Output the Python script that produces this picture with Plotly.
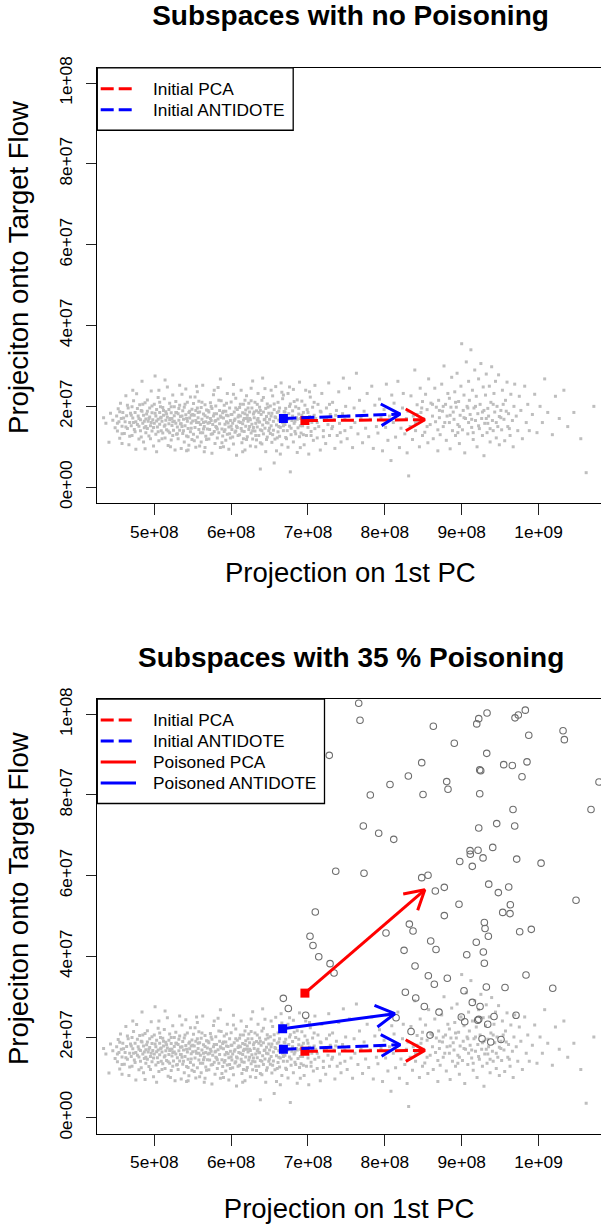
import math
import plotly.graph_objects as go

# ---------------- data ----------------
x_tick_vals = [5e8, 6e8, 7e8, 8e8, 9e8, 1e9]
x_tick_text = ["5e+08", "6e+08", "7e+08", "8e+08", "9e+08", "1e+09"]
y_tick_vals = [0, 2e7, 4e7, 6e7, 8e7, 1e8]
y_tick_text = ["0e+00", "2e+07", "4e+07", "6e+07", "8e+07", "1e+08"]

panel_titles = ["Subspaces with no Poisoning", "Subspaces with 35 % Poisoning"]
x_title = "Projection on 1st PC"
y_title = "Projeciton onto Target Flow"

legend_top = ["Initial PCA", "Initial ANTIDOTE"]
legend_bottom = ["Initial PCA", "Initial ANTIDOTE", "Poisoned PCA", "Poisoned ANTIDOTE"]

# normal traffic (x in 1e6, y in 1e5)
cloud_pts = [
    (434,172),(437,158),(441,111),(443,183),(446,166),(449,147),
    (451,176),(452,139),(453,194),(454,162),(455,121),(456,208),(457,170),(458,151),(459,185),
    (461,133),(462,162),(463,226),(464,177),(465,145),(466,196),(467,105),(468,160),(469,183),
    (470,152),(471,199),(471,128),(472,171),(473,214),(474,143),(475,185),(476,162),(476,94),
    (477,231),(478,155),(479,176),(480,119),(481,204),(482,167),(482,140),(483,190),(484,262),
    (485,158),(486,178),(486,112),(487,147),(488,209),(489,169),(489,135),(484,188),(480,151),
    (490,181),(491,145),(491,216),(492,163),(493,127),(494,196),(494,174),(495,152),(496,238),
    (497,184),(497,139),(498,167),(499,102),(500,205),(500,158),(501,275),(502,176),(502,131),
    (503,192),(504,149),(505,222),(505,168),(506,115),(507,185),(507,156),(508,199),(509,140),
    (509,173),(496,160),(503,88),
    (510,163),(511,197),(511,134),(512,178),(513,151),(513,219),(514,122),(515,187),(515,166),
    (516,142),(517,248),(517,173),(518,103),(519,192),(519,157),(520,208),(520,135),(521,170),
    (522,184),(522,117),(523,153),(524,228),(524,162),(525,141),(526,199),(526,177),(527,92),
    (528,158),(528,212),(529,131),(529,185),(514,265),(523,170),
    (530,149),(531,182),(531,120),(532,166),(533,203),(533,141),(534,175),(535,96),(535,157),
    (536,230),(537,189),(537,133),(538,168),(539,112),(539,198),(540,152),(541,179),(541,243),
    (542,127),(543,163),(543,210),(544,145),(545,185),(545,104),(546,171),(547,137),(547,223),
    (548,159),(549,193),(549,118),(536,150),(542,90),(548,178),
    (550,164),(551,131),(551,207),(552,178),(553,148),(554,99),(554,190),(555,160),(556,236),
    (556,124),(557,172),(558,143),(558,213),(559,186),(560,155),(561,112),(561,197),(562,168),
    (563,135),(563,252),(564,181),(565,150),(565,88),(566,204),(567,162),(567,126),(568,191),
    (569,144),(569,173),(553,223),(559,102),(564,160),(557,185),
    (570,158),(571,186),(571,119),(572,143),(573,209),(573,170),(574,131),(575,195),(575,84),
    (576,155),(577,229),(577,176),(578,138),(579,163),(579,108),(580,201),(581,148),(581,182),
    (582,122),(583,169),(583,247),(584,135),(585,190),(585,157),(586,98),(587,214),(587,173),
    (588,144),(589,184),(589,127),(574,165),(580,150),(586,268),
    (590,171),(591,138),(591,203),(592,156),(593,116),(593,188),(594,162),(595,232),(595,131),
    (596,177),(597,149),(597,94),(598,196),(599,165),(599,122),(600,211),(601,143),(601,180),
    (602,158),(603,254),(603,107),(604,186),(605,136),(605,169),(606,220),(607,151),(607,79),
    (608,192),(609,128),(609,174),(594,178),(600,151),(606,139),
    (610,162),(611,197),(611,130),(612,176),(613,145),(613,240),(614,110),(615,184),(615,157),
    (616,205),(617,138),(617,170),(618,92),(619,191),(619,151),(620,226),(621,125),(621,178),
    (622,163),(623,143),(623,208),(624,186),(625,102),(625,167),(626,134),(627,196),(627,156),
    (628,263),(629,148),(629,181),(612,160),(616,120),(620,170),(624,150),(628,119),(618,215),
    (630,172),(631,139),(631,210),(632,158),(633,189),(633,117),(634,149),(635,232),(635,170),
    (636,128),(637,198),(637,161),(638,45),(638,142),(639,180),(640,107),(640,215),(641,154),
    (642,186),(642,132),(643,167),(644,244),(644,146),(645,195),(645,88),(646,175),(647,124),
    (647,206),(648,159),(649,183),(649,140),(632,100),(636,185),(641,270),(646,160),(634,166),
    (650,168),(651,201),(651,133),(652,152),(653,183),(653,111),(654,226),(655,163),(655,141),
    (656,192),(657,119),(657,174),(658,249),(659,154),(659,90),(660,185),(661,137),(661,210),
    (662,166),(663,126),(663,196),(664,148),(665,178),(665,258),(666,105),(667,160),(667,219),
    (668,140),(669,187),(669,171),(656,60),(662,150),(668,228),
    (670,155),(671,195),(671,123),(672,172),(673,140),(674,232),(674,99),(675,182),(676,151),
    (677,206),(677,38),(678,130),(679,165),(680,189),(681,112),(681,242),(682,158),(683,138),
    (684,199),(685,172),(686,86),(686,216),(687,147),(688,181),(689,125),(689,260),(683,163),
    (690,170),(691,134),(692,213),(693,152),(694,185),(695,105),(696,165),(697,240),(698,128),
    (699,192),(700,148),(701,82),(702,175),(703,223),(704,138),(705,160),(706,198),(707,116),
    (708,178),(709,252),(709,145),
    (710,170),(712,122),(713,205),(714,150),(716,92),(717,186),(718,232),(720,140),(721,168),
    (723,108),(724,196),(726,155),(727,258),(728,128),(729,180),
    (731,145),(732,210),(734,168),(735,96),(737,190),(738,128),(740,236),(741,158),(743,112),
    (745,182),(746,270),(748,140),(749,200),
    (751,120),(753,176),(754,245),(756,148),(758,98),(760,196),(761,160),(763,282),(765,132),
    (767,215),(769,170),
    (771,110),(773,188),(775,146),(777,232),(779,125),(781,168),(783,250),(785,96),(787,203),
    (789,150),
    (791,134),(793,218),(795,172),(797,90),(799,192),(801,148),(802,255),(804,116),(806,176),
    (808,66),(809,228),
    (811,160),(812,208),(814,124),(816,178),(817,262),(819,98),(821,146),(823,196),(824,232),
    (826,132),(828,170),(829,85),
    (830,188),(831,28),(833,150),(834,226),(836,118),(837,176),(839,290),(840,140),(842,204),
    (843,165),(845,100),(846,245),(847,185),(849,128),(849,212),
    (850,170),(852,136),(853,230),(855,192),(856,110),(857,268),(859,155),(860,208),(862,176),
    (863,120),(865,245),(866,162),(867,198),(869,142),(869,90),
    (870,215),(871,172),(872,130),(874,255),(875,188),(876,150),(877,300),(879,205),(880,116),
    (881,176),(882,232),(884,160),(885,95),(886,198),(887,272),(888,140),(889,186),(884,220),
    (890,168),(891,236),(892,128),(893,198),(894,282),(895,155),(896,212),(897,108),(898,178),
    (899,250),(900,355),(901,142),(902,190),(903,228),(904,85),(905,170),(906,310),(907,200),
    (908,132),(909,262),(909,160),
    (910,215),(911,180),(912,340),(913,148),(914,240),(915,118),(916,196),(917,290),(918,165),
    (919,225),(920,100),(921,182),(922,268),(923,145),(924,205),(925,306),(926,170),(927,128),
    (928,248),(929,190),(929,78),
    (930,158),(931,228),(932,280),(933,135),(934,195),(935,176),(936,250),(937,112),(938,210),
    (939,298),(940,165),(941,140),(942,232),(943,186),(944,262),(945,122),(946,200),(947,150),
    (948,278),(949,175),(949,105),
    (951,190),(952,142),(953,240),(955,168),(956,115),(957,215),(959,260),(960,150),(961,182),
    (963,128),(964,230),(966,165),(967,100),(968,200),(969,255),
    (971,176),(973,140),(975,225),(977,190),(979,120),(982,250),(984,160),(986,205),(988,140),
    (992,180),(995,230),(998,135),(1002,200),(1005,160),(1008,268),
    (1012,185),(1018,130),(1022,225),(1027,170),
    (1033,240),(1038,150),(1046,185),
    (1055,120),(1062,36),(1072,200),
    # denser core
    (452,158),(455,187),(458,132),(460,171),(463,149),(465,203),(468,126),(470,178),(473,160),
    (475,137),(478,195),(480,170),(483,124),(485,205),(487,163),(489,150),(491,188),(493,170),
    (495,120),(497,201),(499,148),(501,183),(503,164),(505,137),(507,210),(508,171),(510,120),
    (512,190),(514,154),(516,181),(518,139),(520,167),(522,199),(524,128),(526,163),(528,185),
    (530,132),(532,195),(534,157),(536,176),(538,140),(540,205),(542,170),(544,125),(546,188),
    (548,146),(550,180),(552,115),(554,165),(556,196),(558,160),(560,135),(562,210),(564,144),
    (566,177),(568,118),(570,190),(572,160),(574,200),(576,132),(578,182),(580,165),(582,144),
    (584,215),(586,176),(588,110),(590,188),(592,142),(594,208),(596,159),(598,132),(600,180),
    (602,124),(604,165),(606,196),(608,148),(610,178),(612,205),(614,139),(616,166),(618,182),
    (620,118),(622,196),(624,170),(626,214),(628,140),(630,186),(632,128),(634,205),(636,162),
    (638,190),(640,140),(642,222),(644,168),(646,118),(648,198),(650,146),(652,176),(654,130),
    (656,206),(658,172),(660,122),(662,188),(664,165),(666,235),(668,152),(670,186),(672,120),
    (674,168),(676,200),(678,146),(680,176),(682,212),(684,132),(686,168),(688,195),(690,152),
    (692,178),(694,130),(696,203),(698,162),(700,185),(704,128),(706,172),(708,210),(712,160),
    (716,188),(720,125),(724,172),(728,205),(732,150),(736,178),(742,135),(748,168),
    (458,108),(472,240),(488,95),(506,240),(521,100),(533,252),(544,92),(555,250),(566,98),
    (578,240),(590,100),(603,230),(615,88),(626,245),(638,110),(652,240),(664,82),(676,248),
    (690,98),(702,236),
    (842,180),(855,150),(862,205),(871,190),(878,160),(885,178),(892,210),(897,150),(903,172),
    (908,196),(913,168),(918,200),(922,152),(927,186),(932,170),(937,145),(941,205),(945,160),
    (951,172),(958,188),(962,145),(840,160),(848,196),(876,200),(895,135),(915,135),(934,158),
    (954,205),
]

# poisoned traffic (x in 1e8, y in 1e7)
poison_pts = [
    (7.660,10.27),(7.677,9.85),(6.844,9.24),(7.277,8.98),(8.631,9.70),(8.904,9.28),(9.222,9.89),
    (9.196,9.76),(9.330,10.03),(9.694,9.91),(9.737,9.98),(9.828,10.10),(9.873,9.48),(10.319,9.59),
    (10.336,9.37),(8.480,8.80),(8.306,8.47),(8.067,8.26),(7.811,8.00),(8.497,8.01),(8.805,8.33),
    (8.822,8.14),(9.235,8.62),(9.248,8.60),(9.326,9.03),(9.547,8.75),(9.659,8.73),(9.850,8.82),
    (9.785,8.45),(9.235,8.03),(10.787,8.32),(10.683,7.64),(9.668,7.64),(7.720,7.23),(7.920,7.05),
    (8.116,6.90),(9.222,7.18),(9.456,7.29),(9.690,7.23),(9.109,6.62),(9.112,6.53),(9.213,6.63),
    (9.404,6.70),(9.278,6.44),(8.975,6.35),(9.138,6.23),(9.716,6.41),(10.033,6.31),(7.361,6.11),
    (7.729,6.06),(8.480,5.95),(8.562,6.01),(8.657,5.62),(8.774,5.71),(9.352,5.79),(9.477,5.58),
    (9.612,5.72),(10.488,5.39),(8.965,5.29),(9.633,5.28),(9.534,5.09),(9.629,5.06),(7.095,5.10),
    (8.774,5.01),(9.295,4.84),(9.304,4.69),(9.347,4.50),(9.755,4.61),(9.906,4.67),(8.319,4.80),
    (8.367,4.63),(8.015,4.58),(7.026,4.50),(7.065,4.27),(7.140,3.99),(7.287,3.82),(7.339,3.59),
    (8.597,4.38),(8.666,4.17),(8.250,4.15),(9.190,4.35),(9.282,4.11),(9.066,4.04),(9.295,3.83),
    (8.393,3.76),(8.566,3.52),(8.644,3.31),(8.813,3.46),(9.837,3.54),(10.185,3.21),(9.321,3.24),
    (9.564,3.23),(9.030,3.15),(8.267,3.11),(8.402,2.97),(8.514,2.76),(8.705,2.62),(9.138,2.86),
    (9.239,2.76),(8.995,2.50),(9.040,2.38),(9.209,2.42),(9.222,2.44),(9.421,2.51),(9.339,2.32),
    (9.707,2.54),(6.679,2.96),(6.744,2.71),(6.970,2.54),(8.146,2.48),(8.341,2.14),(8.588,2.05),
    (9.265,1.96),(9.378,1.88),(9.512,1.94),
]

# subspace arrows: (start, end)
init_pca = [(6.96e8, 1.65e7), (8.52e8, 1.67e7)]
init_antidote = [(6.68e8, 1.70e7), (8.20e8, 1.81e7)]
pois_pca = [(6.96e8, 3.09e7), (8.52e8, 5.65e7)]
pois_antidote = [(6.67e8, 2.21e7), (8.13e8, 2.58e7)]

# ---------------- geometry / style ----------------
W, H = 601, 1226
PL, PR = 97.3, 601.0
panels = [(56.7, 498.3), (697.3, 1138.3)]
X0, X1 = 4.2582e8, 1.0813e9
Y0, Y1 = -0.39e7, 1.0375e8
FONT = "Liberation Sans, Arial, Helvetica, sans-serif"
RED, BLUE = "#FF0000", "#0000FF"
DASH = "13px,5px"


def to_px(x, y, top, bot):
    return (PL + (x - X0) / (X1 - X0) * (PR - PL), bot - (y - Y0) / (Y1 - Y0) * (bot - top))


def from_px(px, py, top, bot):
    return (X0 + (px - PL) / (PR - PL) * (X1 - X0), Y0 + (bot - py) / (bot - top) * (Y1 - Y0))


def head(start, end, top, bot, L=22.0, ang=math.radians(30)):
    p0 = to_px(*start, top, bot)
    p1 = to_px(*end, top, bot)
    th = math.atan2(p1[1] - p0[1], p1[0] - p0[0])
    pts = []
    for s in (1, -1):
        a = th + math.pi + s * ang
        pts.append(from_px(p1[0] + L * math.cos(a), p1[1] + L * math.sin(a), top, bot))
    return [pts[0], end, pts[1]]


fig = go.Figure()

cloud_x = [p[0] * 1e6 for p in cloud_pts]
cloud_y = [p[1] * 1e5 for p in cloud_pts]
pois_x = [p[0] * 1e8 for p in poison_pts]
pois_y = [p[1] * 1e7 for p in poison_pts]

for i, (top, bot) in enumerate(panels):
    xa = "x" if i == 0 else "x2"
    ya = "y" if i == 0 else "y2"
    fig.add_trace(go.Scatter(x=cloud_x, y=cloud_y, mode="markers", xaxis=xa, yaxis=ya,
                             marker=dict(symbol="square", size=3, color="#BEBEBE", line=dict(width=0))))
    arrows = [(init_pca, RED, DASH), (init_antidote, BLUE, DASH)]
    if i == 1:
        fig.add_trace(go.Scatter(x=pois_x, y=pois_y, mode="markers", xaxis=xa, yaxis=ya,
                                 marker=dict(symbol="circle-open", size=6.5, color="#6E6E6E",
                                             line=dict(width=1.1, color="#6E6E6E"))))
        arrows = [(pois_pca, RED, "solid"), (pois_antidote, BLUE, "solid")] + arrows
    for seg, col, dash in arrows:
        fig.add_trace(go.Scatter(x=[seg[0][0], seg[1][0]], y=[seg[0][1], seg[1][1]], mode="lines",
                                 xaxis=xa, yaxis=ya, line=dict(color=col, width=3, dash=dash)))
        hp = head(seg[0], seg[1], top, bot)
        fig.add_trace(go.Scatter(x=[p[0] for p in hp], y=[p[1] for p in hp], mode="lines",
                                 xaxis=xa, yaxis=ya, line=dict(color=col, width=3)))
        fig.add_trace(go.Scatter(x=[seg[0][0]], y=[seg[0][1]], mode="markers", xaxis=xa, yaxis=ya,
                                 marker=dict(symbol="square", size=9, color=col, line=dict(width=0))))


def xaxis(anchor, with_title):
    d = dict(range=[X0, X1], domain=[PL / W, PR / W], anchor=anchor,
             tickvals=x_tick_vals, ticktext=x_tick_text, ticks="outside", ticklen=11,
             tickwidth=1, tickcolor="#222", showline=True, linecolor="black", linewidth=1.3,
             mirror=True, showgrid=False, zeroline=False,
             tickfont=dict(family=FONT, size=17.3, color="black"), ticklabelstandoff=2)
    if with_title:
        d["title"] = dict(text=x_title, standoff=27, font=dict(family=FONT, size=27.5, color="black"))
    return d


def yaxis(anchor, top, bot):
    return dict(range=[Y0, Y1], domain=[1 - bot / H, 1 - top / H], anchor=anchor,
                tickvals=y_tick_vals, ticktext=y_tick_text, ticks="outside", ticklen=10.6,
                tickwidth=1, tickcolor="#222", showline=True, linecolor="black", linewidth=1.3,
                mirror=False, showgrid=False, zeroline=False, tickangle=-90,
                tickfont=dict(family=FONT, size=17.3, color="black"), ticklabelstandoff=7)


annotations = []
shapes = []
legend_rows = [(legend_top, [("dash", RED), ("dash", BLUE)], 293.2, 63.3),
               (legend_bottom, [("dash", RED), ("dash", BLUE), ("solid", RED), ("solid", BLUE)],
                324.5, 106.0)]
for i, (top, bot) in enumerate(panels):
    if i == 1:
        annotations.append(dict(text="<b>%s</b>" % panel_titles[i], x=350.5 / W,
                                y=1 - (top - 60) / H, xref="paper", yref="paper",
                                xanchor="center", yanchor="top", showarrow=False,
                                font=dict(family=FONT, size=28, color="black")))
    else:
        annotations.append(dict(text=x_title, x=350.5 / W, y=1 - (top + 512.5) / H,
                                xref="paper", yref="paper", xanchor="center", yanchor="middle",
                                showarrow=False, font=dict(family=FONT, size=27.5, color="black")))
    annotations.append(dict(text=y_title, x=18.5 / W, y=1 - (top + 202.5) / H, textangle=-90,
                            xref="paper", yref="paper", xanchor="center", yanchor="middle",
                            showarrow=False, font=dict(family=FONT, size=27.5, color="black")))
    labels, styles, right, height = legend_rows[i]
    shapes.append(dict(type="rect", xref="paper", yref="paper", x0=PL / W, x1=right / W,
                       y0=1 - (top + height) / H, y1=1 - top / H,
                       line=dict(color="black", width=1.3), fillcolor="white", layer="above"))
    for k, (lab, (st, col)) in enumerate(zip(labels, styles)):
        yy = top + 21.3 + 21.3 * k
        shapes.append(dict(type="line", xref="paper", yref="paper", x0=100.7 / W, x1=136 / W,
                           y0=1 - yy / H, y1=1 - yy / H, layer="above",
                           line=dict(color=col, width=3, dash=DASH if st == "dash" else "solid")))
        annotations.append(dict(text=lab, x=150.6 / W, y=1 - yy / H, xref="paper", yref="paper",
                                xanchor="left", yanchor="middle", showarrow=False,
                                font=dict(family=FONT, size=17.3, color="black")))

fig.update_layout(
    width=W, height=H, margin=dict(l=0, r=0, t=0, b=0),
    paper_bgcolor="white", plot_bgcolor="white", showlegend=False,
    title=dict(text="<b>%s</b>" % panel_titles[0], x=350.5 / W, xanchor="center",
               y=1 - 15.5 / H, yanchor="middle", yref="container",
               font=dict(family=FONT, size=28, color="black")),
    xaxis=xaxis("y", False), yaxis=yaxis("x", *panels[0]),
    xaxis2=xaxis("y2", True), yaxis2=yaxis("x2", *panels[1]),
    annotations=annotations, shapes=shapes,
)

fig.write_html("out.html")
